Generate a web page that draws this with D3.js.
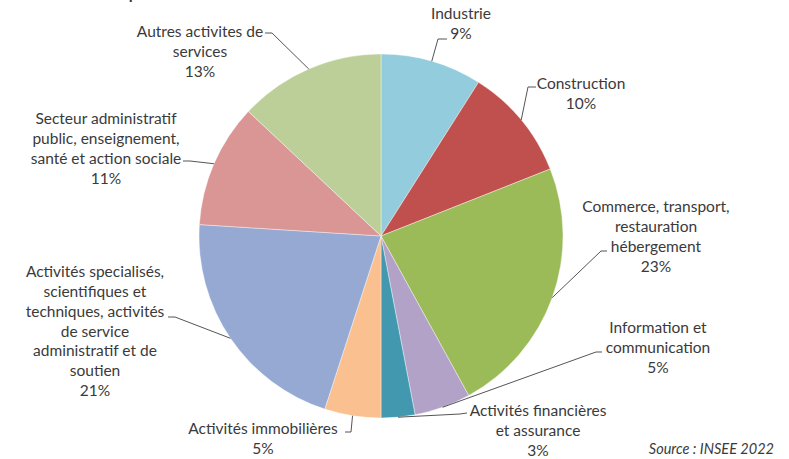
<!DOCTYPE html>
<html>
<head>
<meta charset="utf-8">
<script src="https://cdn.jsdelivr.net/npm/d3@7"></script>
<style>
  html, body { margin: 0; padding: 0; background: #fff; }
  svg { display: block; }
  text { font-family: Lato, "Liberation Sans", sans-serif; fill: #3a3a3a; }
</style>
</head>
<body>
<svg id="chart" width="789" height="459"></svg>
<script>
// ---- Data ----
const categories = [
  "Industrie",
  "Construction",
  "Commerce, transport, restauration hébergement",
  "Information et communication",
  "Activités financières et assurance",
  "Activités immobilières",
  "Activités specialisés, scientifiques et techniques, activités de service administratif et de soutien",
  "Secteur administratif public, enseignement, santé et action sociale",
  "Autres activites de services"
];
const values = [9, 10, 23, 5, 3, 5, 21, 11, 13];
const labelLines = [
  ["Industrie"],
  ["Construction"],
  ["Commerce, transport,", "restauration", "hébergement"],
  ["Information et", "communication"],
  ["Activités financières", "et assurance"],
  ["Activités immobilières"],
  ["Activités specialisés,", "scientifiques et", "techniques, activités", "de service", "administratif et de", "soutien"],
  ["Secteur administratif", "public, enseignement,", "santé et action sociale"],
  ["Autres activites de", "services"]
];
const colors = ["#93CDDD", "#C0504D", "#9BBB59", "#B3A2C7", "#4298AF", "#FAC090", "#95A9D3", "#D99694", "#BCCF98"];
const titleText = "Répartition des créations d'entreprises en 2022";
const sourceText = "Source : INSEE 2022";

// ---- Layout (positions of labels, not data) ----
const cx = 381, cy = 236, R = 182;
const labelLayout = [
  { x: 461, y: 14, elbow: [438, 39], end: [447, 39] },
  { x: 581, y: 84, elbow: [528, 87], end: [536, 87] },
  { x: 656, y: 207, elbow: [601, 251], end: [607, 251] },
  { x: 658, y: 328, elbow: [596, 352], end: [602, 352] },
  { x: 538, y: 411, elbow: [460, 414], end: [467, 413] },
  { x: 263, y: 429, elbow: [351, 432], end: [345, 432] },
  { x: 95,  y: 272, elbow: [175, 317], end: [168, 317] },
  { x: 106, y: 119, elbow: [190, 161], end: [183, 161] },
  { x: 200, y: 32,  elbow: [272, 33], end: [265, 33] }
];
const lineH = 19.7;

const svg = d3.select("#chart");

// title, cropped at the top edge as in the reference
svg.append("text")
  .attr("x", 233).attr("y", -1)
  .attr("text-anchor", "end")
  .style("font-weight", "bold")
  .style("font-size", "16px")
  .text(titleText);

const pie = d3.pie().sort(null).value(d => d)
  .startAngle(0).endAngle(2 * Math.PI);
const arcs = pie(values);
const arc = d3.arc().innerRadius(0).outerRadius(R);
const color = d3.scaleOrdinal().domain(d3.range(values.length)).range(colors);

const g = svg.append("g").attr("transform", `translate(${cx},${cy})`);
g.selectAll("path.slice")
  .data(arcs)
  .join("path")
  .attr("class", "slice")
  .attr("d", arc)
  .attr("fill", (d, i) => color(i))
  .attr("stroke", "#ffffff")
  .attr("stroke-width", 0.4);

// leader lines
arcs.forEach((d, i) => {
  const L = labelLayout[i];
  const mid = (d.startAngle + d.endAngle) / 2;
  const sx = cx + R * Math.sin(mid), sy = cy - R * Math.cos(mid);
  svg.append("polyline")
    .attr("points", [[sx, sy], L.elbow, L.end].map(p => p.join(",")).join(" "))
    .attr("fill", "none")
    .attr("stroke", "#555")
    .attr("stroke-width", 1);
});

// labels
arcs.forEach((d, i) => {
  const L = labelLayout[i];
  const lines = labelLines[i].concat([d3.format(".0f")(values[i]) + "%"]);
  const t = svg.append("text")
    .attr("text-anchor", "middle")
    .style("font-size", "15.5px");
  lines.forEach((ln, k) => {
    t.append("tspan")
      .attr("x", L.x)
      .attr("y", L.y + k * lineH)
      .attr("dy", "0.35em")
      .text(ln);
  });
});

svg.append("text")
  .attr("x", 774).attr("y", 449)
  .attr("text-anchor", "end")
  .attr("dy", "0.35em")
  .style("font-style", "italic")
  .style("font-size", "14.5px")
  .text(sourceText);
</script>
</body>
</html>
